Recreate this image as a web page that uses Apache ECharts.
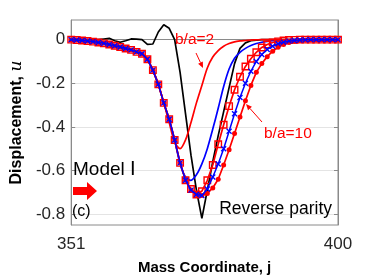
<!DOCTYPE html>
<html><head><meta charset="utf-8">
<script src="https://cdn.jsdelivr.net/npm/echarts@6/dist/echarts.min.js"></script>
<style>html,body{margin:0;padding:0;background:#fff}#c{width:374px;height:280px}</style>
</head><body><div id="c"></div>
<script>
// Mass coordinate j
const massJ = [351,352,353,354,355,356,357,358,359,360,361,362,363,364,365,366,367,368,369,370,
  371,372,373,374,375,376,377,378,379,380,381,382,383,384,385,386,387,388,389,390,
  391,392,393,394,395,396,397,398,399,400];
// black solid curve
const uBlack = [0,0,0,0,0,0,0.003,0.006,-0.005,-0.012,-0.005,0.003,0.002,0,-0.022,-0.02,0.035,0.068,0.052,0,
  -0.15,-0.34,-0.53,-0.69,-0.82,-0.69,-0.56,-0.44,-0.33,-0.22,-0.11,-0.04,-0.015,-0.005,-0.002,0,0,0,0,0,
  0,0,0,0,0,0,0,0,0,0];
// b/a = 2 (red solid)
const uRed2 = [0,-0.002,-0.004,-0.006,-0.009,-0.013,-0.017,-0.022,-0.028,-0.034,-0.041,-0.047,-0.056,-0.065,-0.09,-0.14,-0.205,-0.29,-0.38,-0.47,
  -0.5,-0.46,-0.38,-0.29,-0.21,-0.13,-0.08,-0.05,-0.03,-0.018,-0.01,-0.006,-0.004,-0.002,-0.001,0,0,0,0,0,
  0,0,0,0,0,0,0,0,0,0];
// blue solid
const uBlue = [0,-0.002,-0.004,-0.006,-0.009,-0.013,-0.017,-0.022,-0.028,-0.034,-0.041,-0.047,-0.056,-0.065,-0.09,-0.14,-0.205,-0.29,-0.365,-0.46,
  -0.57,-0.63,-0.645,-0.62,-0.57,-0.5,-0.41,-0.315,-0.215,-0.135,-0.085,-0.058,-0.04,-0.027,-0.018,-0.012,-0.008,-0.005,-0.003,-0.001,
  0,0,0,0,0,0,0,0,0,0];
// red squares
const uRedSq = [0,-0.002,-0.004,-0.006,-0.009,-0.013,-0.017,-0.022,-0.028,-0.034,-0.041,-0.047,-0.056,-0.065,-0.09,-0.14,-0.205,-0.29,-0.365,-0.46,
  -0.565,-0.645,-0.685,-0.71,-0.695,-0.645,-0.575,-0.48,-0.39,-0.305,-0.23,-0.17,-0.123,-0.088,-0.058,-0.036,-0.022,-0.013,-0.008,-0.004,
  -0.002,-0.001,0,0,0,0,0,0,0,0];
// blue crosses
const uBlueX = [0,-0.002,-0.004,-0.006,-0.009,-0.013,-0.017,-0.022,-0.028,-0.034,-0.041,-0.047,-0.056,-0.065,-0.09,-0.14,-0.205,-0.29,-0.365,-0.46,
  -0.565,-0.645,-0.69,-0.71,-0.715,-0.685,-0.63,-0.57,-0.5,-0.42,-0.34,-0.265,-0.2,-0.145,-0.1,-0.068,-0.045,-0.03,-0.019,-0.012,
  -0.007,-0.004,-0.002,-0.001,0,0,0,0,0,0];
// b/a = 10 (red filled circles)
const uRed10 = [0,-0.002,-0.004,-0.006,-0.009,-0.013,-0.017,-0.022,-0.028,-0.034,-0.041,-0.047,-0.056,-0.065,-0.09,-0.14,-0.205,-0.29,-0.365,-0.46,
  -0.565,-0.645,-0.69,-0.71,-0.715,-0.705,-0.68,-0.64,-0.575,-0.505,-0.43,-0.355,-0.28,-0.21,-0.15,-0.11,-0.078,-0.053,-0.035,-0.022,
  -0.013,-0.008,-0.004,-0.002,-0.001,0,0,0,0,0];
const xTicks = [351, 400];
const yTicks = [-0.8, -0.6, -0.4, -0.2, 0];

function pairs(arr){ return massJ.map((j,i)=>[j, arr[i]]); }

const chart = echarts.init(document.getElementById('c'), null, {renderer:'canvas'});
const FONT = '"Liberation Sans", Arial, sans-serif';
const AX = '#8a8a8a';

function arrowGraphic(x1,y1,x2,y2,color){
  const dx=x2-x1, dy=y2-y1, L=Math.hypot(dx,dy), ux=dx/L, uy=dy/L;
  const hl=6, hw=2.6;
  const bx=x2-ux*hl, by=y2-uy*hl;
  return [
    {type:'line', shape:{x1:x1,y1:y1,x2:bx,y2:by}, style:{stroke:color, lineWidth:1}, z:100},
    {type:'polygon', shape:{points:[[x2,y2],[bx-uy*hw,by+ux*hw],[bx+uy*hw,by-ux*hw]]}, style:{fill:color}, z:100}
  ];
}

const option = {
  animation:false,
  grid:{left:61,right:36,top:20,bottom:51,show:true,borderColor:AX,borderWidth:1,backgroundColor:'transparent'},
  xAxis:[{
    type:'value', min:351, max:400,
    name:'Mass Coordinate, j', nameLocation:'middle', nameGap:35,
    nameTextStyle:{fontFamily:FONT,fontWeight:'bold',fontSize:15,color:'#000'},
    axisLine:{show:true,lineStyle:{color:AX}},
    axisTick:{show:false, customValues:xTicks},
    axisLabel:{customValues:xTicks, fontFamily:FONT, fontSize:17, color:'#262626', margin:11},
    splitLine:{show:false}
  }],
  yAxis:[{
    type:'value', min:-0.85, max:0.09,
    name:'{b|Displacement, }{u|u}', nameLocation:'middle', nameGap:44,
    nameTextStyle:{rich:{
      b:{fontFamily:FONT,fontWeight:'bold',fontSize:16,color:'#000'},
      u:{fontFamily:'"DejaVu Serif", serif',fontStyle:'italic',fontSize:17,color:'#000'}}},
    axisLine:{show:true,lineStyle:{color:AX}},
    axisTick:{show:true,inside:true,length:4,customValues:yTicks,lineStyle:{color:AX}},
    axisLabel:{customValues:yTicks, fontFamily:FONT, fontSize:17, color:'#262626', margin:6,
      formatter:v=> (Math.abs(v)<1e-9?'0':String(Math.round(v*10)/10))},
    splitLine:{show:true,lineStyle:{color:'#e4e4e4',width:1}}
  },{
    type:'value', min:-0.85, max:0.09, position:'right',
    axisLine:{show:true,lineStyle:{color:AX}},
    axisTick:{show:true,inside:true,length:4,customValues:yTicks,lineStyle:{color:AX}},
    axisLabel:{show:false}, splitLine:{show:false}
  }],
  series:[
    {type:'line', data:pairs(uBlack), showSymbol:false, symbol:'none', lineStyle:{color:'#000',width:1.7}, z:2},
    {type:'line', data:pairs(uBlue), symbol:'none', smooth:0.3, lineStyle:{color:'#0000ff',width:1.7}, z:3},
    {type:'line', data:pairs(uRed2), symbol:'none', smooth:0.3, lineStyle:{color:'#ff0000',width:1.7}, z:4},
    {type:'line', data:pairs(uRedSq), symbol:'rect', symbolSize:6.5,
      lineStyle:{color:'#ff0000',width:1.7},
      itemStyle:{color:'rgba(255,255,255,0)',borderColor:'#ff0000',borderWidth:1.4}, z:5},
    {type:'line', data:pairs(uRed10), symbol:'circle', symbolSize:5,
      lineStyle:{color:'#ff0000',width:1.7},
      itemStyle:{color:'#ff0000',borderWidth:0}, z:6},
    {type:'line', data:pairs(uBlueX), symbol:'path://M0,0L10,10M10,0L0,10', symbolSize:5,
      lineStyle:{color:'#0000ff',width:1.5},
      itemStyle:{color:'#0000ff',borderColor:'#0000ff',borderWidth:1.3}, z:7}
  ],
  graphic:[
    {type:'text', left:175, top:32, style:{text:'b/a=2', font:'15.5px '+FONT, fill:'#ff0000'}, z:100},
    {type:'text', left:264, top:126, style:{text:'b/a=10', font:'15.5px '+FONT, fill:'#ff0000'}, z:100},
    {type:'text', left:73, top:160, style:{text:'Model Ⅰ', font:'19px '+FONT, fill:'#000'}, z:100},
    {type:'text', left:72, top:204, style:{text:'(c)', font:'16px '+FONT, fill:'#000'}, z:100},
    {type:'text', right:42, top:200, style:{text:'Reverse parity', font:'17.5px '+FONT, fill:'#000'}, z:100},
    {type:'polygon', shape:{points:[[73,187],[87,187],[87,182],[97,191],[87,200],[87,195],[73,195]]}, style:{fill:'#ff0000'}, z:100}
  ].concat(arrowGraphic(196,53,203,68,'#ff0000')).concat(arrowGraphic(262,122,246,104,'#ff0000'))
};
chart.setOption(option);
</script>
</body></html>
